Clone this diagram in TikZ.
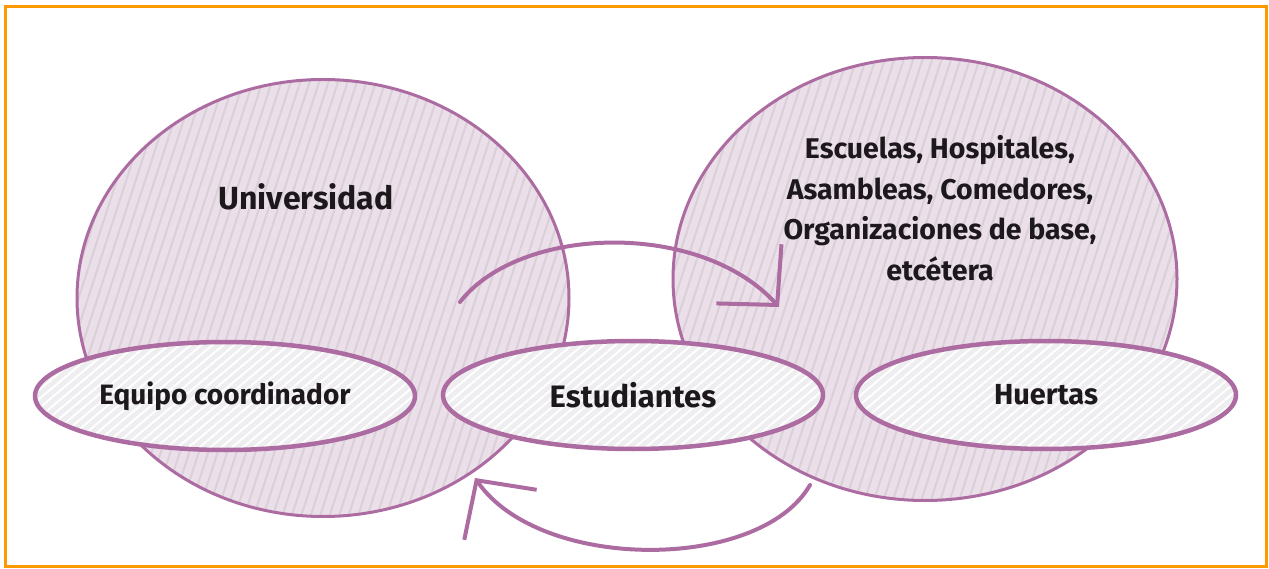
\documentclass[tikz,border=0pt]{standalone}
\usepackage{fontspec}
\setmainfont{Fira Sans}
\usetikzlibrary{shapes.geometric,arrows.meta,patterns.meta}
\definecolor{mauve}{RGB}{172,108,162}
\definecolor{lilac}{RGB}{235,223,233}
\definecolor{hatchc}{RGB}{218,208,216}
\definecolor{pale}{RGB}{238,237,239}
\definecolor{orangeb}{RGB}{255,153,0}
\definecolor{ink}{RGB}{28,24,28}
\begin{document}
\begin{tikzpicture}[x=1pt,y=-1pt,
  bigcircle/.style={ellipse, draw=mauve, line width=3pt, inner sep=0pt,
    preaction={fill=lilac},
    pattern={Lines[angle=72,distance=9pt,line width=2pt]}, pattern color=hatchc},
  lens/.style={ellipse, draw=mauve, line width=4.5pt, inner sep=0pt,
    minimum width=380pt, minimum height=108pt,
    preaction={fill=pale},
    pattern={Lines[angle=40,distance=7pt,line width=2pt]}, pattern color=white,
    font=\bfseries\fontsize{28}{32}\selectfont, text=ink},
  label/.style={font=\bfseries\fontsize{28.5}{40.5}\selectfont, text=ink, align=center, inner sep=0pt},
  loop/.style={draw=mauve, line width=4pt, line cap=round,
    -{Straight Barb[length=42pt,width=88pt]}}
]
\useasboundingbox (0,0) rectangle (1269,569);
% frame
\draw[draw=orangeb, line width=3pt] (5.5,6.5) rectangle (1266,566.5);
% big circles
\node[bigcircle, minimum width=492pt, minimum height=437pt] (uni) at (323,298) {};
\node[bigcircle, minimum width=504pt, minimum height=443pt] (org) at (925,279) {};
\node[label, font=\bfseries\fontsize{32}{36}\selectfont] (unitext) at (306,197) {Universidad};
\node[label] (orgtext) at (940,208) {Escuelas, Hospitales,\\Asambleas, Comedores,\\Organizaciones de base,\\etcétera};
% loops
\coordinate (t1) at (460,302);
\coordinate (t2) at (779,307);
\draw[loop] (t1) .. controls (520,225) and (700,220) .. (t2);
\coordinate (b1) at (810,485);
\coordinate (b2) at (475,478);
\draw[loop] (b1) .. controls (760,572) and (540,572) .. (b2);
% lens nodes
\node[lens] (equipo) at (225,396) {Equipo coordinador};
\node[lens, font=\bfseries\fontsize{31}{34}\selectfont] (estud) at (633,395) {Estudiantes};
\node[lens, font=\bfseries\fontsize{29}{32}\selectfont] (huertas) at (1046,395) {Huertas};
\end{tikzpicture}
\end{document}
